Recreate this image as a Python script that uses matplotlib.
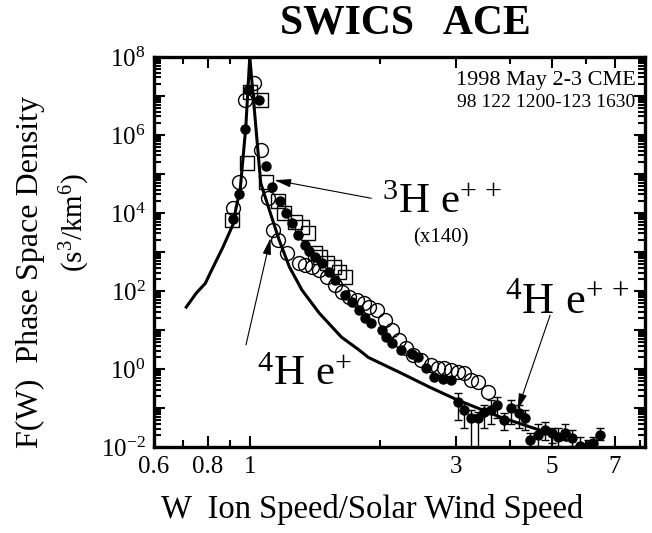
import matplotlib
matplotlib.use("Agg")
import matplotlib.pyplot as plt
import numpy as np

plt.rcParams['font.family'] = ['Liberation Serif', 'DejaVu Serif']
plt.rcParams['mathtext.fontset'] = 'custom'
plt.rcParams['mathtext.rm'] = 'Liberation Serif'
plt.rcParams['mathtext.it'] = 'Liberation Serif:italic'

# model curve
curve_w = [0.713, 0.752, 0.789, 0.81, 0.867, 0.914, 0.93, 0.95, 0.979, 1.0,
           1.06, 1.11, 1.17, 1.235, 1.32, 1.447, 1.63, 1.79, 1.88,
           2.24, 2.6, 3.03, 3.8, 4.7, 5.4]
curve_f = [39, 89, 158, 290, 1.35e3, 5e3, 1.4e4, 3.9e4, 1.6e6, 1e8,
           5.9e4, 1.2e4, 2.0e3, 417, 107, 27.5, 6.6, 3.1, 2.0,
           0.79, 0.35, 0.16, 0.059, 0.027, 0.015]

# 4He++ (filled circles)
he2_w = [0.914, 0.944, 0.974, 0.990, 1.049, 1.088, 1.123, 1.172, 1.21, 1.255,
         1.29, 1.345, 1.373, 1.417, 1.47, 1.525, 1.575, 1.66, 1.72, 1.79,
         1.85, 1.91, 2.02, 2.07, 2.13, 2.24, 2.37, 2.45, 2.56, 2.67,
         2.80, 2.92]
he2_f = [7.1e3, 3.1e4, 1.4e6, 1.4e7, 8e6, 1.6e5, 4.7e4, 2.1e4, 1e4, 5.5e3,
         2.8e3, 1.5e3, 1.07e3, 740, 520, 310, 190, 79, 52, 33,
         21, 15, 10, 6.6, 4.6, 3.1, 2.4, 2.0, 1.1, 0.62,
         0.55, 0.52]

# 4He++ tail with error bars
tail_w = [3.03, 3.13, 3.25, 3.37, 3.48, 3.61, 3.74, 3.87, 4.01, 4.19, 4.34,
          4.46, 4.65, 4.82, 5.0, 5.17, 5.36, 5.56, 5.8, 6.05, 6.22, 6.45]
tail_f = [0.14, 0.089, 0.055, 0.055, 0.079, 0.089, 0.12, 0.049, 0.1, 0.074, 0.055,
          0.015, 0.02, 0.027, 0.023, 0.018, 0.023, 0.017, 0.011, 0.011, 0.0126, 0.02]
tail_hi = [0.24, 0.135, 0.089, 0.079, 0.12, 0.16, 0.19, 0.074, 0.16, 0.12, 0.089,
           0.023, 0.04, 0.045, 0.031, 0.031, 0.04, 0.027, 0.018, 0.015, 0.018, 0.031]
tail_lo = [0.049, 0.031, 0.005, 0.005, 0.031, 0.04, 0.055, 0.027, 0.04, 0.031, 0.027,
           0.01, 0.011, 0.015, 0.013, 0.011, 0.015, 0.011, 0.01, 0.01, 0.01, 0.015]

# 4He+ (open circles)
he1_w = [0.914, 0.944, 0.974, 1.021, 1.06, 1.10, 1.129, 1.16, 1.22, 1.30,
         1.345, 1.395, 1.447, 1.51, 1.575, 1.63, 1.70, 1.77, 1.84, 1.89,
         1.97, 2.05, 2.13, 2.21, 2.30, 2.39, 2.49, 2.63, 2.73, 2.82,
         2.92, 3.03, 3.13, 3.25, 3.37, 3.55]
he1_f = [1.35e4, 6.2e4, 7.9e6, 2.1e7, 4.2e5, 2.4e4, 3.6e3, 2e3, 930, 520,
         470, 410, 350, 230, 142, 94, 70, 59, 49, 39,
         32, 18, 10, 5.5, 3.5, 2.3, 1.7, 1.26, 1.1, 1.07,
         0.93, 0.83, 0.79, 0.52, 0.47, 0.26]

# 3He++ x140 (open squares)
he3_w = [0.909, 0.984, 1.0, 1.06, 1.088, 1.16, 1.20, 1.27, 1.32, 1.36,
         1.417, 1.455, 1.51, 1.566, 1.61, 1.66]
he3_f = [6.6e3, 1.9e5, 1.26e7, 7.9e6, 6.2e4, 2.1e4, 1e4, 5.9e3, 4.4e3, 3.1e3,
         940, 740, 520, 410, 310, 230]

fig = plt.figure(figsize=(6.52, 5.33), dpi=100)
ax = fig.add_axes([0.236, 0.161, 0.753, 0.732])

ax.plot(curve_w, curve_f, color='black', lw=2.2, zorder=2)
ax.plot(he3_w, he3_f, 's', ms=9.5, mfc='none', mec='black', mew=1.0, zorder=3)
ax.plot(he1_w, he1_f, 'o', ms=10, mfc='none', mec='black', mew=1.0, zorder=3)
ax.plot(he2_w, he2_f, 'o', ms=6.5, color='black', zorder=4)
yerr = [np.array(tail_f) - np.array(tail_lo), np.array(tail_hi) - np.array(tail_f)]
ax.errorbar(tail_w, tail_f, yerr=yerr, fmt='o', ms=6.5, color='black',
            ecolor='black', elinewidth=1.0, capsize=3, capthick=1.0, zorder=4)

ax.set_xscale('log')
ax.set_yscale('log')
ax.set_xlim(0.6, 8.2)
ax.set_ylim(1e-2, 1e8)

ax.set_xticks([0.6, 0.8, 1, 3, 5, 7])
ax.set_xticklabels(['0.6', '0.8', '1', '3', '5', '7'])
ax.set_xticks([0.7, 0.9, 2, 4, 6, 8], minor=True)
ax.xaxis.set_minor_formatter(matplotlib.ticker.NullFormatter())
ax.set_yticks([10.0**k for k in range(-2, 9)])
ax.set_yticklabels(['$10^{%d}$' % k if k % 2 == 0 else '' for k in range(-2, 9)])
ax.yaxis.set_minor_locator(matplotlib.ticker.LogLocator(base=10, subs=np.arange(2, 10), numticks=20))
ax.yaxis.set_minor_formatter(matplotlib.ticker.NullFormatter())

ax.tick_params(which='both', direction='in', top=True, right=True, width=1.5)
ax.tick_params(which='major', length=8, labelsize=18, pad=6)
ax.tick_params(which='minor', length=5)
for s in ax.spines.values():
    s.set_linewidth(2.4)

fig.text(0.622, 0.955, 'SWICS   ACE', ha='center', va='center', fontsize=30, fontweight='bold')
fig.text(0.571, 0.045, 'W  Ion Speed/Solar Wind Speed', ha='center', va='center', fontsize=23.5)
fig.text(0.046, 0.49, 'F(W)  Phase Space Density', rotation=90, ha='center', va='center', fontsize=23)
fig.text(0.115, 0.583, '(s$^{3}$/km$^{6}$)', rotation=90, ha='center', va='center', fontsize=21)

ax.text(0.982, 0.965, '1998 May 2-3 CME', transform=ax.transAxes, ha='right', va='top', fontsize=16)
ax.text(0.98, 0.905, '98 122 1200-123 1630', transform=ax.transAxes, ha='right', va='top', fontsize=14)

arrow = dict(arrowstyle='-|>,head_length=1.0,head_width=0.25', lw=0.8, color='black', shrinkA=0, shrinkB=0)
ax.annotate('', xy=(1.14, 7e4), xytext=(1.91, 2.4e4), arrowprops=arrow)
ax.annotate('', xy=(1.117, 2.3e3), xytext=(0.98, 4.2), arrowprops=arrow)
ax.annotate('', xy=(4.16, 0.089), xytext=(4.95, 24), arrowprops=arrow)

ax.text(2.02, 1e4, r'$^{3}$H e$^{+\,+}$', fontsize=31)
ax.text(2.77, 2.3e3, '(x140)', fontsize=15, ha='center', va='center')
ax.text(3.9, 27, r'$^{4}$H e$^{+\,+}$', fontsize=32)
ax.text(1.04, 0.39, r'$^{4}$H e$^{+}$', fontsize=31)

fig.savefig('out.png', dpi=100)
